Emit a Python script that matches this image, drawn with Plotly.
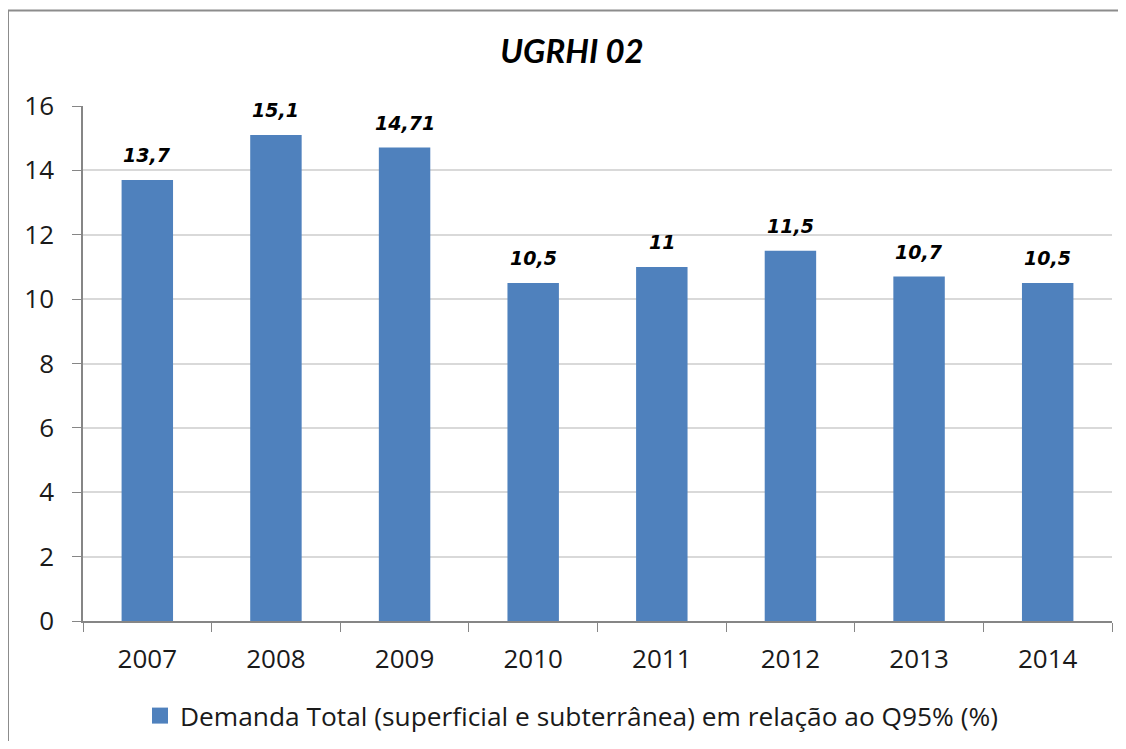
import plotly.graph_objects as go

years = ["2007", "2008", "2009", "2010", "2011", "2012", "2013", "2014"]
values = [13.7, 15.1, 14.71, 10.5, 11.0, 11.5, 10.7, 10.5]
labels = ["13,7", "15,1", "14,71", "10,5", "11", "11,5", "10,7", "10,5"]
series_name = "Demanda Total (superficial e subterrânea) em relação ao Q95% (%)"
title_text = "UGRHI 02"

# page body has an 8px margin; work in figure coordinates = reference - 8
OFF = 8
W, H = 1126 - OFF - 8, 749 - OFF - 8
L, R, T, B = 83 - OFF, 1112 - OFF, 106 - OFF, 621 - OFF

BLUE = "#4F81BD"
TXT = "#1a1a1a"
FONT = "Open Sans"
TICK_SIZE = 26
LEG_SIZE = 26.3

fig = go.Figure()
fig.add_trace(go.Bar(
    x=years, y=values, name=series_name,
    marker=dict(color=BLUE, line=dict(width=0)),
    showlegend=False, hoverinfo="x+y",
))
# legend entry with a larger square swatch
fig.add_trace(go.Scatter(
    x=[years[0]], y=[None], mode="markers", name=series_name,
    marker=dict(symbol="square", size=16, color=BLUE),
    showlegend=True, hoverinfo="skip",
))

annotations = []
for i, (v, lab) in enumerate(zip(values, labels)):
    # on a category axis a numeric x is the category index
    annotations.append(dict(
        x=i, y=v, xref="x", yref="y", text=lab, showarrow=False,
        yanchor="bottom", xanchor="center", yshift=12,
        font=dict(family="DejaVu Sans", size=19, color="#000000", weight="bold", style="italic"),
    ))

pw, ph = R - L, B - T
def px_x(x):
    return (x - OFF - L) / pw
def px_y(y):
    return (B - (y - OFF)) / ph

fig.update_layout(
    width=W, height=H,
    margin=dict(l=L, r=W - R, t=T, b=H - B, pad=0),
    paper_bgcolor="white", plot_bgcolor="white",
    font=dict(family=FONT, size=TICK_SIZE, color=TXT),
    title=dict(text=title_text, x=(572 - OFF) / W, xref="container", xanchor="center",
               y=1 - (51.5 - OFF) / H, yref="container", yanchor="middle",
               font=dict(family="Lato", size=33, color="#000000", weight="bold", style="italic")),
    bargap=0.6,
    xaxis=dict(type="category", categoryorder="array", categoryarray=years,
               range=[-0.5, len(years) - 0.5],
               showline=True, linecolor="#868686", linewidth=1.5,
               ticks="outside", tickson="boundaries", ticklen=9, tickcolor="#868686",
               ticklabelstandoff=14,
               showgrid=False, tickangle=0, tickfont=dict(family=FONT, size=TICK_SIZE, color=TXT)),
    yaxis=dict(range=[0, 16], dtick=2, showline=True, linecolor="#868686", linewidth=1.5,
               ticks="outside", ticklen=9, tickcolor="#868686",
               ticklabelstandoff=13,
               showgrid=True, gridcolor="#D9D9D9", gridwidth=1.5, zeroline=False,
               tickfont=dict(family=FONT, size=TICK_SIZE, color=TXT)),
    legend=dict(orientation="h", x=(140 - OFF) / W, xref="container", xanchor="left",
                y=1 - (716 - OFF) / H, yref="container", yanchor="middle",
                font=dict(family=FONT, size=LEG_SIZE, color=TXT),
                itemwidth=30, bgcolor="rgba(0,0,0,0)"),
    annotations=annotations,
    shapes=[dict(type="rect", xref="paper", yref="paper",
                 x0=px_x(8), x1=px_x(1160), y0=px_y(780), y1=px_y(10.5),
                 line=dict(color="#8C8C8C", width=2), fillcolor="rgba(0,0,0,0)", layer="below")],
)

fig.write_html("out.html")
